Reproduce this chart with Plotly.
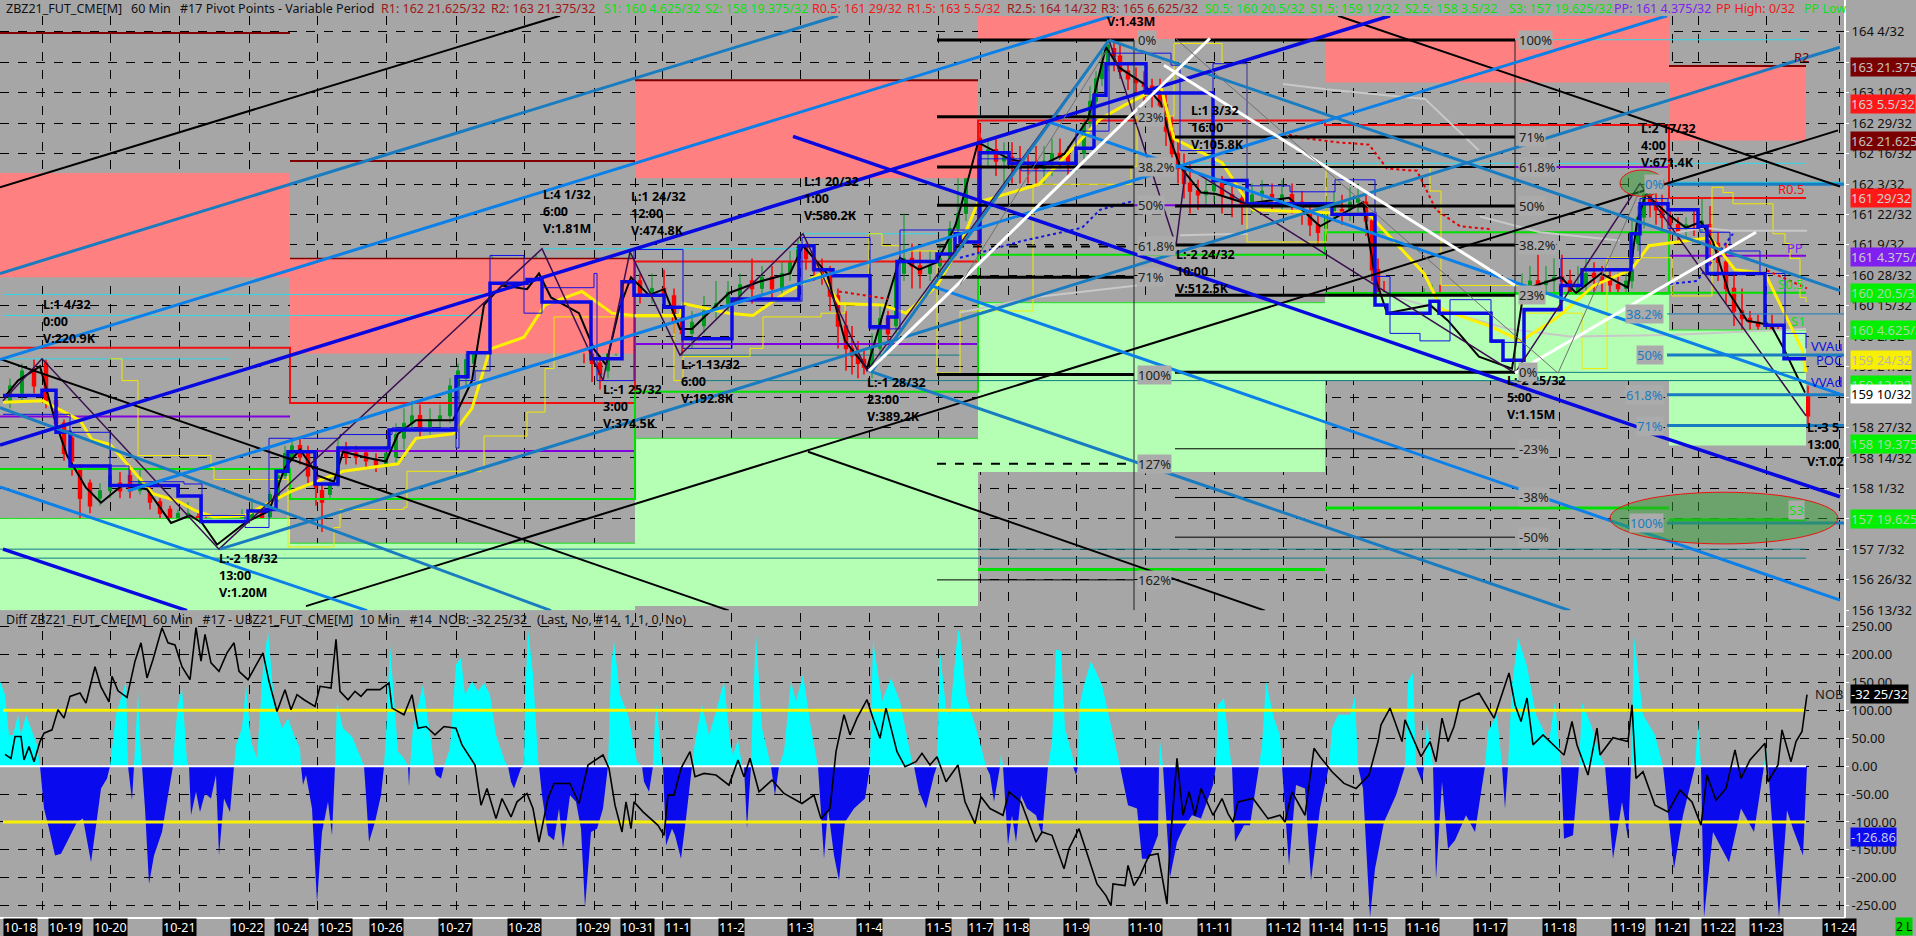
import plotly.graph_objects as go

W, H = 1916, 936
BG = "#A6A6A6"
FONT = "Noto Sans"
PANEL_R = 1845

grid_x = [42,110,179,249,317,386,456,524,594,635,662,731,800,869,938,980,1008,1076,1145,1214,1283,1326,1353,1422,1490,1559,1628,1672,1698,1766,1839]
date_x = [20,65,110,179,248,291,335,386,455,524,593,637,677,731,800,869,938,980,1016,1076,1145,1214,1283,1326,1370,1422,1490,1559,1628,1672,1718,1766,1839]
date_labels = ["10-18","10-19","10-20","10-21","10-22","10-24","10-25","10-26","10-27","10-28","10-29","10-31","11-1","11-2","11-3","11-4","11-5","11-7","11-8","11-9","11-10","11-11","11-12","11-14","11-15","11-16","11-17","11-18","11-19","11-21","11-22","11-23","11-24"]

price_ticks = [164.125,163.719,163.3125,162.906,162.5,162.094,161.6875,161.281,160.875,160.469,160.0625,159.656,159.25,158.844,158.4375,158.031,157.625,157.219,156.8125,156.406]
price_labels = ["164 4/32","163 23/32","163 10/32","162 29/32","162 16/32","162 3/32","161 22/32","161 9/32","160 28/32","160 15/32","160 2/32","159 21/32","159 8/32","158 27/32","158 14/32","158 1/32","157 20/32","157 7/32","156 26/32","156 13/32"]
diff_ticks = [250,200,150,100,50,0,-50,-100,-150,-200,-250]
diff_labels = ["250.00","200.00","150.00","100.00","50.00","0.00","-50.00","-100.00","-150.00","-200.00","-250.00"]

period_x = [0,290,635,978,1325,1669,1806]
pink_hi = [162.24,161.10,163.48,164.34,164.34,163.668]
pink_lo = [160.85,159.83,162.17,164.03,163.45,162.676]
green_hi = [157.63,157.30,158.70,160.51,160.62,160.145]
green_lo = [156.40,156.40,156.46,158.25,159.47,158.605]
r1_level = [159.91,159.17,161.06,162.94,162.88,161.906]
pp_level = [158.99,158.53,159.96,161.81,162.32,161.137]
s_level = [158.29,157.89,159.32,161.15,161.45,160.641]
r2_level = [164.11,162.40,163.48,None,None,163.668]
s3_level = [None,None,None,156.95,157.77,157.613]

fib1_levels = [164.015,162.99,162.32,161.81,161.26,160.85,159.55,158.36,156.81]
fib1_text = ["0%","23%","38.2%","50%","61.8%","71%","100%","127%","162%"]
fib1_width = [3,3,3,3,2,3,3,2,1]
fib2_levels = [164.015,162.72,162.32,161.8,161.28,160.61,159.58,158.56,157.91,157.38]
fib2_text = ["100%","71%","61.8%","50%","38.2%","23%","0%","-23%","-38%","-50%"]
fib2_width = [3,3,2,3,3,3,3,1,1,1]
fib3_levels = [162.09,160.36,159.81,159.28,158.87,157.57]
fib3_text = ["0%","38.2%","50%","61.8%","71%","100%"]
fib3_width = [3,1,3,3,3,3]

candle_x = [10,22,34,46,56,64,72,80,90,100,
110,120,130,140,150,160,170,178,188,198,
206,214,222,232,242,252,262,270,278,285,
292,300,308,316,322,330,338,346,356,366,
376,386,396,404,412,420,430,440,450,458,
466,474,480,486,492,500,508,516,526,536,
544,552,560,568,576,584,592,600,608,616,
624,630,640,652,664,674,682,692,704,716,
728,740,752,762,772,782,790,798,806,814,
822,830,838,846,852,858,864,872,880,888,
896,904,912,920,930,940,950,958,966,972,
980,988,996,1004,1012,1020,1028,1036,1044,1052,
1060,1068,1076,1084,1090,1096,1102,1108,1114,1120,
1128,1136,1144,1152,1160,1166,1172,1178,1184,1190,
1198,1206,1214,1222,1232,1242,1252,1262,1272,1282,
1292,1302,1310,1318,1326,1334,1342,1350,1358,1366,
1372,1378,1384,1392,1400,1408,1416,1424,1432,1440,
1448,1456,1464,1472,1480,1488,1496,1504,1510,1516,
1522,1530,1538,1546,1554,1562,1570,1578,1586,1594,
1602,1610,1618,1626,1632,1638,1644,1650,1656,1662,
1670,1678,1686,1694,1702,1710,1718,1726,1734,1742,
1750,1758,1766,1772,1778,1784,1790,1796,1802,1808]
candle_open = [159.2,159.3,159.6,159.7,159.2,158.9,158.7,158.3,158.1,157.9,
158.0,158.1,158.2,158.0,158.0,157.85,157.75,157.55,157.6,157.65,
157.55,157.45,157.3,157.35,157.45,157.6,157.7,157.65,157.9,158.2,
158.45,158.6,158.5,158.2,158.0,157.95,158.1,158.55,158.5,158.5,
158.4,158.35,158.45,158.7,158.9,159.0,158.85,158.95,159.0,159.4,
159.5,159.7,160.0,160.3,160.6,160.75,160.65,160.7,160.6,160.75,
160.9,160.7,160.55,160.5,160.4,160.2,159.9,159.7,159.6,159.9,
160.5,160.8,160.8,160.6,160.7,160.6,160.3,160.1,160.2,160.4,
160.5,160.6,160.8,160.7,160.85,160.7,160.9,161.1,161.25,161.1,
160.95,160.9,160.6,160.2,159.9,159.8,159.75,159.65,159.9,160.3,
160.2,160.9,161.1,161.0,160.9,161.0,161.1,161.5,161.7,162.3,
162.7,162.5,162.55,162.4,162.45,162.4,162.35,162.35,162.3,162.4,
162.5,162.5,162.35,162.5,162.9,163.2,163.5,163.7,163.9,163.8,
163.6,163.5,163.45,163.4,163.3,163.15,162.8,162.5,162.3,162.1,
162.0,161.95,162.0,162.1,161.95,161.9,161.8,161.95,161.95,161.9,
161.95,161.85,161.7,161.55,161.5,161.7,161.75,161.75,161.85,161.85,
161.6,160.95,160.6,160.35,160.3,160.35,160.4,160.35,160.45,160.55,
160.35,160.25,160.1,159.95,159.8,159.75,159.85,159.75,159.7,159.75,
160.3,160.5,160.8,160.75,160.8,160.85,160.8,160.65,160.75,160.9,
160.85,160.8,160.75,160.7,160.8,161.3,161.65,161.95,161.85,161.75,
161.65,161.55,161.5,161.5,161.55,161.55,161.3,161.05,160.7,160.4,
160.3,160.25,160.2,160.2,160.05,159.8,159.85,159.7,159.5,159.25]
candle_close = [159.4,159.6,159.4,159.2,158.9,158.5,158.4,157.9,157.8,158.0,
158.2,158.0,158.0,158.15,157.85,157.7,157.5,157.7,157.7,157.45,
157.35,157.25,157.45,157.5,157.65,157.75,157.6,157.95,158.2,158.5,
158.6,158.45,158.2,158.05,157.85,158.1,158.55,158.45,158.45,158.4,
158.35,158.5,158.75,158.9,159.0,158.85,158.95,159.0,159.4,159.6,
159.75,160.05,160.35,160.65,160.8,160.65,160.7,160.6,160.75,160.95,
160.7,160.55,160.45,160.4,160.2,159.95,159.7,159.55,159.85,160.5,
160.8,160.9,160.6,160.7,160.6,160.25,160.1,160.25,160.4,160.5,
160.65,160.75,160.7,160.85,160.7,160.9,161.05,161.25,161.1,160.95,
160.9,160.6,160.2,159.9,159.8,159.7,159.65,159.9,160.3,160.1,
160.9,161.1,161.0,160.9,161.0,161.1,161.5,161.7,162.3,162.7,
162.5,162.55,162.4,162.45,162.4,162.35,162.35,162.3,162.4,162.5,
162.45,162.35,162.5,162.9,163.2,163.5,163.7,163.95,163.8,163.6,
163.5,163.45,163.4,163.3,163.15,162.8,162.5,162.3,162.1,162.0,
161.95,162.0,162.1,161.95,161.9,161.8,161.95,162.0,161.9,161.95,
161.85,161.7,161.55,161.45,161.7,161.8,161.7,161.85,161.9,161.6,
160.95,160.6,160.35,160.3,160.35,160.4,160.35,160.45,160.55,160.35,
160.25,160.1,159.95,159.8,159.75,159.85,159.75,159.7,159.75,160.3,
160.5,160.8,160.75,160.8,160.85,160.8,160.65,160.75,160.9,160.85,
160.8,160.75,160.7,160.8,161.3,161.65,161.95,161.85,161.75,161.65,
161.55,161.45,161.55,161.5,161.6,161.3,161.05,160.7,160.4,160.3,
160.25,160.2,160.25,160.05,159.8,159.85,159.7,159.5,159.25,159.0]
candle_high = [159.5,159.7,159.75,159.75,159.25,158.95,158.75,158.35,158.15,158.1,
158.3,158.25,158.3,158.3,158.1,157.9,157.8,157.75,157.85,157.7,
157.65,157.5,157.55,157.6,157.75,157.9,157.8,158.0,158.3,158.6,
158.7,158.7,158.6,158.35,158.1,158.2,158.7,158.65,158.6,158.55,
158.5,158.6,158.9,159.1,159.2,159.15,159.1,159.15,159.5,159.7,
159.85,160.2,160.5,161.0,161.15,160.95,160.85,160.85,160.9,161.15,
161.0,160.85,160.65,160.6,160.5,160.3,160.0,159.8,159.95,160.6,
160.95,161.2,160.9,160.9,160.95,160.7,160.4,160.4,160.6,160.8,
160.8,160.9,161.1,161.0,161.0,161.05,161.2,161.35,161.3,161.2,
161.1,161.0,160.7,160.4,160.2,160.0,159.9,160.1,160.5,160.4,
161.0,161.7,161.3,161.2,161.2,161.3,161.6,162.2,163.0,163.1,
162.9,162.7,162.7,162.65,162.65,162.6,162.55,162.6,162.6,162.7,
162.7,162.6,162.6,163.0,163.4,163.6,163.85,164.05,164.05,163.95,
163.7,163.65,163.6,163.5,163.5,163.3,163.0,162.7,162.5,162.4,
162.15,162.15,162.3,162.2,162.1,162.05,162.1,162.15,162.1,162.15,
162.1,162.0,161.85,161.7,161.9,162.0,161.95,162.05,162.1,162.0,
161.7,161.1,160.8,160.55,160.6,160.65,160.65,160.7,160.75,160.75,
160.5,160.4,160.3,160.15,160.0,159.95,160.05,159.9,159.95,160.4,
160.9,161.0,161.15,161.0,161.1,161.15,160.95,161.0,161.1,161.05,
161.0,160.95,160.9,160.95,161.6,161.8,162.1,162.05,162.05,161.95,
161.75,161.65,161.65,161.75,161.9,161.8,161.45,161.3,160.9,160.7,
160.4,160.35,160.4,160.35,160.2,160.0,160.0,159.8,159.6,159.4]
candle_low = [159.1,159.2,159.3,159.1,158.8,158.4,158.2,157.6,157.7,157.8,
157.9,157.9,157.9,157.95,157.75,157.6,157.4,157.45,157.5,157.3,
157.25,157.15,157.25,157.3,157.4,157.55,157.5,157.6,157.85,158.15,
158.4,158.35,158.1,157.8,157.45,157.9,158.05,158.35,158.35,158.3,
158.25,158.3,158.35,158.55,158.8,158.7,158.75,158.85,158.9,159.2,
159.4,159.6,159.9,160.2,160.5,160.4,160.5,160.45,160.5,160.65,
160.4,160.25,160.1,160.15,159.95,159.7,159.45,159.35,159.5,159.8,
160.4,160.6,160.5,160.5,160.5,160.1,159.8,159.9,160.1,160.3,
160.4,160.5,160.5,160.6,160.55,160.6,160.8,161.0,160.95,160.8,
160.75,160.4,159.9,159.6,159.55,159.5,159.55,159.5,159.8,160.0,
160.1,160.8,160.7,160.7,160.8,160.85,161.0,161.4,161.6,162.2,
162.2,162.3,162.2,162.1,162.1,162.1,162.1,162.05,162.1,162.2,
162.3,162.2,162.25,162.4,162.8,163.1,163.4,163.6,163.6,163.5,
163.35,163.3,163.2,163.1,163.0,162.6,162.2,162.1,161.9,161.7,
161.75,161.8,161.85,161.7,161.65,161.55,161.7,161.8,161.75,161.75,
161.7,161.55,161.4,161.3,161.4,161.6,161.55,161.6,161.7,161.4,
160.8,160.35,160.0,159.9,160.0,160.2,160.1,160.15,160.2,160.1,
160.05,159.9,159.75,159.6,159.5,159.55,159.55,159.55,159.6,159.65,
160.2,160.4,160.45,160.55,160.55,160.55,160.45,160.45,160.6,160.65,
160.6,160.6,160.55,160.6,160.7,161.2,161.5,161.65,161.55,161.45,
161.35,161.3,161.35,161.4,161.45,161.0,160.8,160.5,160.2,160.1,
160.1,160.05,160.05,159.8,159.6,159.6,159.5,159.3,159.1,158.85]

avg_x = [5,18,40,55,67,86,101,122,147,171,190,202,217,245,269,285,300,318,334,343,367,386,398,416,435,453,472,484,502,527,539,551,579,594,606,619,631,649,664,680,692,729,759,790,803,827,845,867,882,900,919,937,955,960,978,1009,1039,1064,1088,1106,1119,1143,1161,1170,1180,1201,1216,1247,1289,1320,1363,1375,1387,1430,1448,1479,1512,1524,1561,1576,1601,1628,1637,1646,1668,1686,1701,1713,1729,1747,1771,1784,1805]
avg_price = [159.26,159.47,159.66,158.94,158.47,158.04,157.84,158.07,158.02,157.57,157.67,157.57,157.28,157.57,157.73,158.31,158.55,158.2,158.12,158.52,158.44,158.39,158.76,158.94,158.94,158.94,159.47,160.48,160.74,160.69,160.9,160.58,160.37,159.89,159.68,160.42,160.85,160.61,160.69,160.16,160.16,160.64,160.79,160.9,161.27,160.9,160.0,159.63,160.32,161.11,160.95,161.05,161.53,161.75,162.65,162.43,162.33,162.49,162.96,163.92,163.65,163.44,163.17,162.7,162.33,161.98,161.96,161.83,161.91,161.53,161.85,160.85,160.37,160.48,160.27,159.79,159.63,160.69,160.85,160.64,160.9,160.71,161.59,161.96,161.69,161.51,161.59,161.32,160.64,160.27,160.21,159.89,159.31]

fast_x = [3,42,56,70,110,178,201,248,266,276,288,315,338,389,456,468,490,527,542,591,622,634,664,683,732,799,814,833,870,888,897,937,955,960,980,1009,1076,1094,1106,1146,1213,1247,1332,1375,1387,1430,1439,1491,1503,1524,1561,1582,1631,1640,1668,1698,1707,1765,1784,1806]
fast_price = [159.27,159.34,158.78,158.33,158.07,157.93,157.59,157.73,157.75,158.26,158.52,158.09,158.57,158.81,159.52,159.84,160.77,160.82,160.52,159.76,160.79,160.61,160.45,160.03,160.56,161.27,160.95,160.87,160.19,160.32,161.06,161.16,161.43,161.32,162.51,162.37,162.57,163.28,163.70,163.31,162.14,161.83,161.69,160.48,160.37,160.53,160.37,160.0,159.74,160.42,160.74,160.95,161.43,161.83,161.75,161.53,160.9,160.21,159.76,159.76]

slow_x = [3,42,70,110,129,184,202,245,269,340,392,456,459,475,490,524,542,594,597,625,634,683,732,802,870,900,955,978,1021,1076,1109,1171,1180,1213,1247,1290,1320,1335,1375,1390,1420,1450,1491,1503,1524,1561,1640,1668,1700,1730,1760,1785,1806]
slow_price = [159.02,159.02,158.78,158.33,158.12,158.09,157.67,157.51,158.7,158.75,158.84,158.57,159.47,159.6,161.14,160.37,160.71,160.9,159.47,159.47,161.22,159.9,160.53,161.38,160.16,161.48,161.48,162.43,162.27,162.8,163.84,163.68,162.54,163.7,162.07,161.99,161.99,162.15,160.86,160.1,160.0,160.55,159.98,159.98,160.4,161.1,161.9,161.5,161.45,161.2,160.9,160.1,159.9]

yellow_x = [3,43,80,92,110,153,178,196,214,245,291,343,398,416,453,472,490,524,545,582,612,634,680,683,729,753,784,821,839,882,906,937,960,978,1039,1100,1125,1161,1174,1222,1253,1369,1424,1442,1491,1521,1558,1594,1631,1649,1710,1735,1765,1802,1806]
yellow_price = [159.18,159.2,158.94,158.68,158.62,157.96,157.86,157.73,157.65,157.67,157.99,158.26,158.36,158.7,158.76,159.1,159.89,160.05,160.48,160.66,160.37,160.34,160.34,160.5,160.37,160.34,160.63,160.9,160.5,160.48,160.37,160.74,161.27,161.85,162.09,162.96,163.15,163.39,162.7,162.38,161.75,161.69,160.9,160.42,160.19,160.0,160.32,160.74,160.95,161.27,161.38,160.95,160.9,159.89,159.58]

thin_yellow_x = [110,122,138,211,214,288,288,334,340,404,407,481,484,527,545,554,674,683,750,763,821,845,869,882,900,937,960,1033,1131,1137,1174,1222,1247,1326,1430,1441,1521,1576,1582,1607,1669,1672,1705,1712,1723,1733,1766,1773,1785,1790,1800,1806]
thin_yellow_price = [159.76,159.47,158.47,158.31,158.15,158.2,157.25,157.51,157.75,157.78,158.26,158.31,158.73,159.05,159.63,160.32,159.47,159.79,159.9,160.32,160.37,160.48,161.43,161.27,161.2,159.57,160.4,162.09,162.33,163.0,163.97,163.7,161.32,162.33,162.0,160.74,160.37,160.37,159.63,161.11,161.11,160.6,160.6,162.05,161.98,161.83,161.83,161.43,161.3,161.1,160.58,160.52]

red_curve_x = [839,888,None,1289,1308,1338,1369,1387,1417,1436,1460,1491,None,1767,1807]
red_curve_price = [160.66,160.56,None,162.75,162.7,162.65,162.62,162.3,162.27,161.75,161.53,161.49,None,160.94,160.7]
gray_x = [1283,1326,1363,1425,1479,None,1480,1540,1620,None,1670,1703,1730,1807,None,1180,1247,None,960,1039,1137,None,1381,1509,1570,1670,1806]
gray_price = [163.43,163.36,163.31,163.23,162.54,None,161.66,161.45,161.34,None,161.43,161.51,161.47,161.47,None,161.41,161.43,None,160.38,160.59,160.74,None,160.64,160.16,160.06,160.08,160.16]
blue_curve_x = [960,978,1021,1082,1100,1134,None,1670,1697,1733]
blue_curve_price = [161.11,161.17,161.33,161.51,161.75,161.87,None,160.76,160.8,161.43]
pivot_x = [3,42,219,542,603,630,680,803,867,1109,1176,1186,1515,1640,1806]
pivot_price = [159.2,159.76,157.22,161.23,159.47,161.19,159.81,161.43,159.6,164.015,161.27,162.33,159.57,162.1,159.0]

area_x = [0,5,9,13,18,21,26,31,37,40,44,49,55,61,67,77,83,91,97,101,107,110,116,121,126,128,132,134,138,141,142,145,149,154,162,168,173,175,178,182,187,189,191,196,200,205,211,216,219,224,230,234,236,242,246,251,257,263,268,274,282,288,294,300,301,303,306,312,317,322,328,332,335,337,343,352,361,364,366,369,375,381,384,386,390,398,404,408,409,410,413,423,432,434,436,441,444,450,456,461,465,472,478,484,490,496,505,508,511,514,521,524,525,528,533,538,539,542,548,554,559,563,570,576,581,585,591,597,603,608,611,614,620,628,637,642,644,649,653,655,657,661,663,666,672,675,681,686,692,695,702,709,716,724,730,733,738,742,744,747,751,753,756,762,770,771,775,779,784,791,796,803,811,818,824,828,834,839,845,854,865,870,873,882,891,900,912,914,919,926,934,937,940,946,950,958,960,966,978,986,990,994,1000,1001,1003,1008,1012,1016,1021,1027,1036,1042,1048,1052,1056,1061,1065,1073,1076,1078,1079,1084,1091,1102,1113,1120,1128,1137,1142,1149,1158,1159,1160,1163,1170,1177,1183,1192,1201,1213,1216,1218,1224,1231,1232,1235,1244,1250,1259,1262,1266,1274,1280,1282,1289,1296,1305,1311,1320,1329,1332,1338,1350,1355,1358,1363,1370,1375,1384,1396,1405,1408,1413,1416,1422,1424,1427,1433,1436,1442,1448,1455,1466,1475,1485,1488,1497,1502,1505,1508,1512,1518,1527,1536,1549,1555,1561,1564,1573,1579,1582,1591,1600,1605,1613,1622,1628,1631,1634,1643,1655,1663,1674,1683,1695,1698,1701,1704,1713,1729,1741,1754,1764,1766,1768,1779,1787,1793,1803,1807]
area_v = [152,128,56,56,92,56,92,68,38,0,-76,-112,-160,-157,-136,-100,-94,-172,-94,-40,-22,0,92,122,152,0,-61,0,134,14,0,-76,-211,-160,-118,-52,0,56,110,141,8,0,-88,-46,-82,-49,-58,-16,-160,-58,-82,0,38,68,146,44,14,176,242,116,68,86,56,32,0,-34,-16,-76,-244,-118,-64,-124,0,116,68,53,14,0,-52,-136,-100,-52,0,56,218,26,14,0,-37,0,68,146,32,0,-16,-22,0,32,182,194,128,152,134,149,128,56,8,0,-28,-40,-4,0,116,245,164,14,0,-52,-124,-133,-76,-148,-52,-64,-112,-253,-118,-112,-76,0,176,224,128,92,8,0,-28,-46,0,86,110,14,0,-142,-112,-124,-166,-94,0,44,110,56,98,152,44,20,47,2,0,-112,0,116,236,68,8,0,-52,0,26,152,116,164,68,0,-166,-76,-160,-205,-100,-76,-58,0,227,116,158,116,8,0,-46,-76,-16,0,206,104,92,245,236,128,56,0,-16,-64,0,23,0,-142,-88,-136,-52,-76,-88,-124,0,44,209,206,68,14,-16,0,104,146,188,146,56,0,-70,-76,-166,-166,-124,0,44,0,-199,-136,-112,-88,-94,-34,0,110,122,8,0,-136,-106,-106,0,38,152,86,56,0,-178,-34,-40,-205,-76,0,68,92,92,125,0,-40,-271,-184,-100,-52,0,152,167,0,-28,0,80,0,-202,-28,-148,-133,-88,-118,0,62,92,0,-76,0,146,230,179,92,44,116,0,-130,-124,0,113,74,20,0,-166,-64,-130,0,233,92,56,0,-184,-88,0,80,0,-271,-118,-172,-76,-118,0,32,0,-271,-79,-112,-160,0]

nob_x = [5,11,15,21,24,29,34,40,44,52,58,64,70,80,86,95,101,109,112,118,127,135,141,147,153,162,168,175,182,190,196,201,205,211,219,227,234,239,248,263,269,277,285,291,297,304,315,320,331,336,340,348,355,361,367,380,389,392,404,412,418,426,435,444,456,462,475,481,487,496,502,511,517,527,533,539,548,554,570,579,588,603,609,615,622,626,631,634,643,658,664,668,674,681,690,695,704,716,729,738,744,750,759,772,784,802,814,821,830,836,844,850,857,867,873,880,886,897,905,916,922,930,937,946,958,960,965,975,981,990,1003,1009,1021,1026,1036,1042,1052,1064,1069,1079,1088,1097,1106,1111,1113,1125,1128,1134,1140,1149,1158,1167,1170,1177,1183,1189,1195,1201,1213,1222,1228,1233,1238,1253,1268,1280,1285,1292,1305,1314,1320,1332,1344,1356,1369,1378,1381,1390,1402,1405,1421,1430,1436,1442,1448,1454,1460,1479,1494,1509,1515,1521,1527,1533,1543,1564,1572,1577,1588,1597,1600,1613,1628,1632,1636,1643,1655,1668,1680,1692,1701,1707,1716,1726,1735,1741,1750,1765,1768,1778,1782,1791,1796,1802,1807]
nob_v = [21,14,53,53,11,35,8,44,59,65,101,86,125,131,113,178,142,115,161,135,123,188,221,158,191,248,221,217,178,155,248,188,236,185,170,203,221,170,155,203,152,98,137,101,128,119,107,143,140,227,134,119,134,125,137,137,149,104,92,128,68,71,56,71,68,38,2,-70,-40,-94,-58,-91,-64,-49,-76,-136,-58,-31,-31,-67,2,20,-4,-70,-118,-64,-112,-64,-82,-106,-124,-52,-52,-4,26,-19,-13,-16,-34,11,-19,14,-46,-25,-49,-67,-52,-94,-76,26,92,56,86,119,86,50,104,26,-1,8,23,2,17,-28,2,-16,-64,-103,-55,-76,-88,-46,-64,-88,-136,-118,-124,-184,-148,-112,-163,-211,-232,-250,-211,-214,-178,-214,-196,-160,-157,-247,-142,14,-88,-46,-88,-40,-88,-58,-85,-100,-64,-58,-94,-88,-100,-46,-88,32,17,-10,-31,-40,-16,44,74,104,44,83,17,44,8,86,44,71,116,131,86,167,110,80,122,38,56,20,80,38,-16,68,20,51,44,110,-22,-10,-70,-82,-43,-64,-106,-16,-61,-40,29,-22,11,41,-28,2,65,8,44,62,128]

fig = go.Figure()

def line(x, y, color, width=1, dash=None, shape="linear", panel=1, name=None):
    fig.add_trace(go.Scatter(x=x, y=y, mode="lines", xaxis="x" if panel == 1 else "x2", yaxis="y" if panel == 1 else "y2",
                             line=dict(color=color, width=width, dash=dash, shape=shape), connectgaps=False,
                             hoverinfo="skip", showlegend=False, name=name))

def box(x0, x1, lo, hi, color):
    fig.add_trace(go.Scatter(x=[x0, x1, x1, x0, x0], y=[lo, lo, hi, hi, lo], mode="none", fill="toself", fillcolor=color,
                             hoverinfo="skip", showlegend=False))

for i in range(6):
    box(period_x[i], period_x[i+1], pink_lo[i], pink_hi[i], "#FF8080")
    box(period_x[i], period_x[i+1], green_lo[i], green_hi[i], "#B4FFB4")
    line([period_x[i], period_x[i+1]], [green_hi[i]]*2, "#22E022", 1)
    if r2_level[i] is not None:
        line([period_x[i], period_x[i+1]], [r2_level[i]]*2, "#800000", 2)
    line([period_x[i], period_x[i+1]], [pp_level[i]]*2, "#8000E0", 2)
    if s3_level[i] is not None:
        line([period_x[i], period_x[i+1]], [s3_level[i]]*2, "#00E000", 3)
line([period_x[1], period_x[2]], [161.10]*2, "#800000", 1.5)
line(period_x, r1_level + [161.906], "#F01010", 2, shape="hv")
line(period_x, s_level + [160.641], "#00E000", 2, shape="hv")
line([1325, 1669], [160.64, 160.64], "#00E000", 2)

line([3,484,None,3,484,None,3,230,None,542,800,None,803,937,None,1175,1806,None,1180,1806], [160.62,160.62,None,160.34,160.34,None,159.76,159.76,None,161.23,161.23,None,161.43,161.43,None,164.02,164.02,None,162.37,162.37], "#30D8E8", 1)
line([1670,1845], [162.11,162.11], "#20C8E0", 2)
line([0,1806,None,0,1806,None,680,960,None,680,1806,None,1175,1806], [157.22,157.22,None,157.10,157.10,None,159.81,159.81,None,159.47,159.47,None,159.58,159.58], "#0E7C86", 1)

line(thin_yellow_x, thin_yellow_price, "#F2E800", 1, shape="hv")
line(gray_x, gray_price, "#C8C8C8", 2)

fig.add_trace(go.Candlestick(x=candle_x, open=candle_open, high=candle_high, low=candle_low, close=candle_close,
    increasing=dict(line=dict(color="#009A20", width=1), fillcolor="#009A20"),
    decreasing=dict(line=dict(color="#FF0000", width=1.5), fillcolor="#FF0000"),
    whiskerwidth=0, hoverinfo="skip", showlegend=False))

line(yellow_x, yellow_price, "#FFF000", 3)
line(avg_x, avg_price, "#000000", 2)
line(slow_x, slow_price, "#1010E8", 1, shape="hv")
line(fast_x, fast_price, "#0A0AE6", 3.5, shape="hv")
line(red_curve_x, red_curve_price, "#E80000", 2, dash="dot")
line(blue_curve_x, blue_curve_price, "#1414E0", 2, dash="dot")
line(pivot_x, pivot_price, "#3A0F50", 1.5)

for level, w in zip(fib1_levels, fib1_width):
    line([937, 1134], [level, level], "#000000", w, dash="dash" if w == 2 else None)
for level, w in zip(fib2_levels, fib2_width):
    line([1175, 1515], [level, level], "#000000", w)
line([1134, 1134], [164.015, 156.40], "#202020", 1)
line([1515, 1515], [164.015, 159.58], "#202020", 1)
for level, w in zip(fib3_levels, fib3_width):
    line([1667, 1845], [level, level], "#1A7CC0", w)

line([0,560,None,306,1838,None,0,729,None,808,1265,None,1338,1840], [162.05,164.34,None,156.46,162.81,None,159.76,156.40,None,158.52,156.40,None,164.34,162.06], "#000000", 2)
line([0,838,None,220,1840,None,1109,1840,None,869,1570,None,0,551,None,872,1109], [160.9,164.34,None,157.22,163.92,None,164.015,160.67,None,159.6,156.40,None,159.11,156.40,None,159.6,164.015], "#1A7CC0", 3)
line([0,1112,None,128,1667,None,1045,1840,None,930,1840,None,0,367], [159.75,164.34,None,158.0,164.34,None,162.94,159.29,None,160.74,156.54,None,158.05,156.40], "#0A80E8", 3)
line([0,1390,None,793,1640,None,1650,1840,None,3,187], [158.61,164.34,None,162.73,158.84,None,158.77,157.92,None,157.22,156.40], "#0808E0", 3.5)
line([869,1210,None,1164,1515,None,1515,1756], [159.6,164.04,None,163.68,160.74,None,159.57,161.45], "#FFFFFF", 3)
line([1176,1558,1640,None,960,1106], [164.03,159.57,162.01,None,160.75,163.87], "#707070", 1)

# lower panel
fig.add_trace(go.Scatter(x=area_x, y=[max(v, 0) for v in area_v], xaxis="x2", yaxis="y2", mode="none", fill="tozeroy", fillcolor="#00FFFF", hoverinfo="skip", showlegend=False))
fig.add_trace(go.Scatter(x=area_x, y=[min(v, 0) for v in area_v], xaxis="x2", yaxis="y2", mode="none", fill="tozeroy", fillcolor="#0A0AEE", hoverinfo="skip", showlegend=False))
line([0, 1806], [0, 0], "#FFFFFF", 2, panel=2)
line([3, 1806], [100, 100], "#F8F000", 3, panel=2)
line([3, 1806], [-100, -100], "#F8F000", 3, panel=2)
line(nob_x, nob_v, "#000000", 1.6, panel=2)

ann = []
def T(x, py, text, color="#000000", size=13, anchor="left", bg=None, bold=False):
    d = dict(xref="paper", yref="paper", x=x / W, y=1 - py / H, text=f"<b>{text}</b>" if bold else text, showarrow=False,
             xanchor=anchor, yanchor="middle", font=dict(family=FONT, size=size, color=color), borderpad=0)
    if bg:
        d["bgcolor"] = bg
    ann.append(d)

# header rows
T(5, 8, "ZBZ21_FUT_CME[M]", "#101010", 12.5)
T(130, 8, "60 Min", "#101010", 12.5)
T(179, 8, "#17 Pivot Points - Variable Period", "#101010", 12.5)
header_x = [380,490,603,704,811,906,1006,1100,1204,1309,1404,1508,1613,1715,1803]
header_text = ["R1: 162 21.625/32","R2: 163 21.375/32","S1: 160 4.625/32","S2: 158 19.375/32","R0.5: 161 29/32","R1.5: 163 5.5/32","R2.5: 164 14/32","R3: 165 6.625/32","S0.5: 160 20.5/32","S1.5: 159 12/32","S2.5: 158 3.5/32","S3: 157 19.625/32","PP: 161 4.375/32","PP High: 0/32","PP Low"]
header_color = ["#A01818","#A01818","#10E010","#10E010","#F01818","#F01818","#A01818","#A01818","#10E010","#10E010","#10E010","#10E010","#8020F0","#F01818","#10E010"]
for hx, ht, hc in zip(header_x, header_text, header_color):
    T(hx, 8, ht, hc, 12.5)
T(5, 618, "Diff ZBZ21_FUT_CME[M]  60 Min   #17 - UBZ21_FUT_CME[M]  10 Min   #14  NOB: -32 25/32   (Last, No, #14, 1, 1, 0, No)", "#101010", 12.5)

# swing labels
swing = [(42,304,"L:1 4/32","0:00","V:220.9K"),(542,194,"L:4 1/32","6:00","V:1.81M"),(630,196,"L:1 24/32","12:00","V:474.8K"),
         (803,181,"L:1 20/32","1:00","V:580.2K"),(218,557,"L:-2 18/32","13:00","V:1.20M"),(602,389,"L:-1 25/32","3:00","V:374.5K"),
         (680,364,"L:-1 13/32","6:00","V:192.8K"),(866,382,"L:-1 28/32","23:00","V:389.2K"),(1190,110,"L:1 3/32","16:00","V:105.8K"),
         (1175,254,"L:-2 24/32","10:00","V:512.5K"),(1640,128,"L:2 17/32","4:00","V:671.4K"),(1506,380,"L:-2 25/32","5:00","V:1.15M"),
         (1806,427,"L:-3 5","13:00","V:1.02")]
for sx, sy, a, b, c in swing:
    T(sx, sy, a, "#000000", 12.5, bold=True)
    T(sx, sy + 17, b, "#000000", 12.5, bold=True)
    T(sx, sy + 34, c, "#000000", 12.5, bold=True)
T(1106, 21, "V:1.43M", "#000000", 12.5, bold=True)

# fib labels (placed on the price axis)
def fib(x, level, text, color, anchor):
    ann.append(dict(xref="x", yref="y", x=x, y=level, text=text, showarrow=False, xanchor=anchor, yanchor="middle",
                    font=dict(family=FONT, size=13, color=color), bgcolor="#ABABAB", borderpad=0))
for lv, tx in zip(fib1_levels, fib1_text):
    fib(1137, lv, tx, "#202020", "left")
for lv, tx in zip(fib2_levels, fib2_text):
    fib(1518, lv, tx, "#202020", "left")
for lv, tx in zip(fib3_levels, fib3_text):
    fib(1664, lv, tx, "#1A7CC0", "right")

# pivot names
T(1793, 57, "R2", "#800000", 13)
T(1777, 189, "R0.5", "#F01010", 13)
T(1786, 247, "PP", "#8020F0", 13)
T(1777, 283, "S0.5", "#10E010", 13)
T(1790, 320, "S1", "#10E010", 13)
T(1788, 509, "S3", "#10E010", 13, bg="#ABABAB")
T(1810, 345, "VVAu", "#1010E0", 13)
T(1815, 359, "POC", "#1010E0", 13)
T(1810, 381, "VVAd", "#1010E0", 13)
T(1814, 693, "NOB", "#202020", 13)

# price boxes at the right
tag_py = [67,104,141,198,256,292,329,359,384,393,443,518,693,835]
tag_text = ["163 21.375/","163 5.5/32","162 21.625/","161 29/32","161 4.375/3","160 20.5/32","160 4.625/3","159 24/32","159 13/32","159 10/32","158 19.375/","157 19.625/","-32 25/32","-126.86"]
tag_bg = ["#7A0000","#FF1818","#7A0000","#FF1818","#8020F0","#00F000","#00F000","#F8F000","#00F000","#FFFFFF","#00F000","#00F000","#000000","#0A0AEE"]
tag_fg = ["#C0C0C0","#D0D0D0","#C0C0C0","#D0D0D0","#C8C8C8","#A8D8A8","#A8D8A8","#B8B8A0","#A8D8A8","#000000","#A8D8A8","#A8D8A8","#FFFFFF","#C8C8E8"]
for py, tx, b, f in zip(tag_py, tag_text, tag_bg, tag_fg):
    T(1850, py, tx, f, 13, bg=b)
T(1895, 925, "2 L", "#000000", 12, bg="#00D000")

for dx, dl in zip(date_x, date_labels):
    T(dx, 926, dl, "#FFFFFF", 12.5, anchor="center", bg="#000000")

shapes = [
    dict(type="line", xref="paper", yref="paper", x0=0, x1=PANEL_R / W, y0=1 - 916 / H, y1=1 - 916 / H, line=dict(color="#FFFFFF", width=2)),
    dict(type="line", xref="paper", yref="paper", x0=PANEL_R / W, x1=PANEL_R / W, y0=1 - 916 / H, y1=1, line=dict(color="#FFFFFF", width=2)),
    dict(type="circle", xref="x", yref="y", x0=1610, x1=1838, y0=157.29, y1=157.98, fillcolor="rgba(50,160,50,0.5)", line=dict(color="#F01010", width=1)),
    dict(type="circle", xref="x", yref="y", x0=1620, x1=1664, y0=161.93, y1=162.28, fillcolor="rgba(50,160,50,0.5)", line=dict(color="#F01010", width=1)),
]

grid = dict(showgrid=True, gridcolor="#000000", gridwidth=1, griddash="dash", zeroline=False)
dom = [0, PANEL_R / W]
fig.update_layout(
    width=W, height=H + 10, autosize=False,
    margin=dict(l=0, r=0, t=0, b=0),
    paper_bgcolor=BG, plot_bgcolor=BG, showlegend=False,
    font=dict(family=FONT, size=13, color="#000000"),
    xaxis=dict(domain=dom, range=[0, PANEL_R], tickmode="array", tickvals=grid_x, showticklabels=False, ticks="", rangeslider=dict(visible=False), anchor="y", **grid),
    xaxis2=dict(domain=dom, range=[0, PANEL_R], tickmode="array", tickvals=grid_x, showticklabels=False, ticks="", anchor="y2", **grid),
    yaxis=dict(domain=[1 - 609 / H, 1 - 16 / H], range=[156.404, 164.336], side="right", anchor="x", tickmode="array", tickvals=price_ticks, ticktext=price_labels,
               tickfont=dict(family=FONT, size=13, color="#101010"), ticks="outside", ticklen=3, tickcolor="#FFFFFF", **grid),
    yaxis2=dict(domain=[1 - 916 / H, 1 - 612 / H], range=[-272, 273.8], side="right", anchor="x2", tickmode="array", tickvals=diff_ticks, ticktext=diff_labels,
                tickfont=dict(family=FONT, size=13, color="#101010"), ticks="outside", ticklen=3, tickcolor="#FFFFFF", **grid),
    annotations=ann, shapes=shapes,
)
fig.write_html("out.html", config=dict(displayModeBar=False),
               post_script="document.documentElement.style.background='#A6A6A6';document.body.style.margin='0';document.body.style.overflow='hidden';")
